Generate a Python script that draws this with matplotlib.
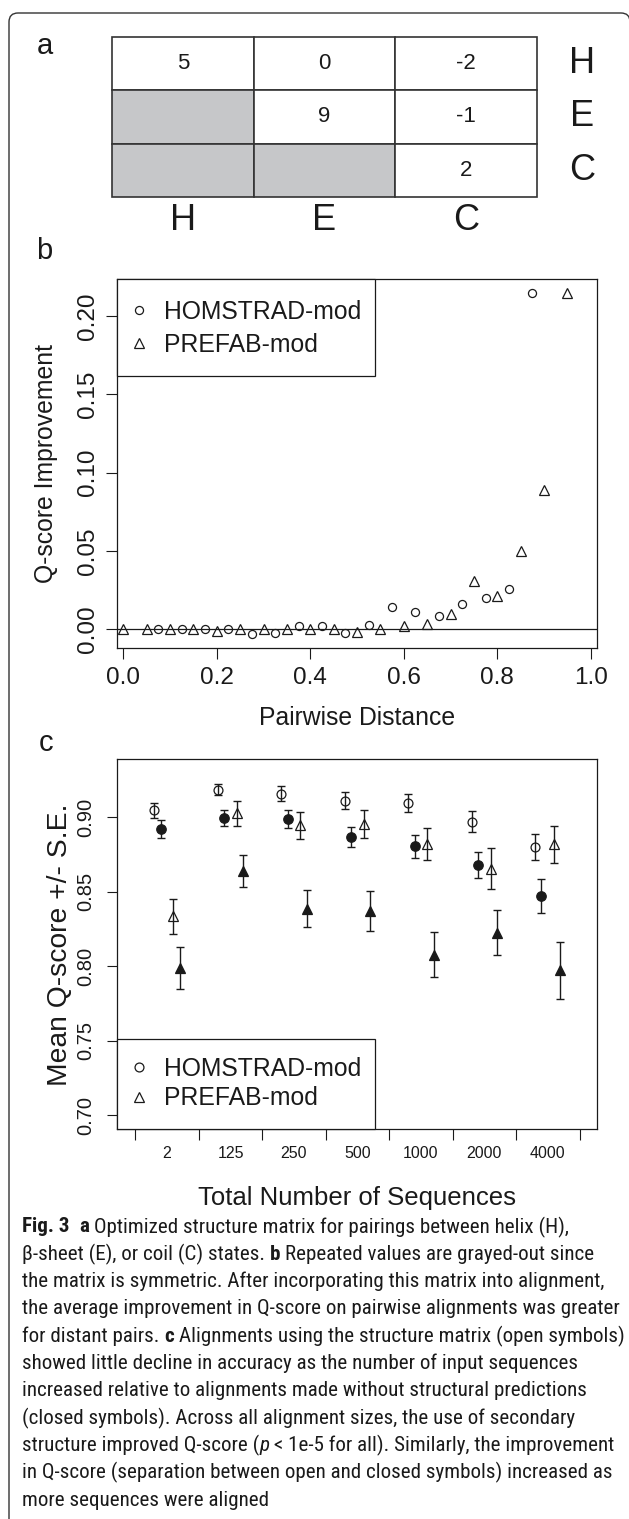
import matplotlib
matplotlib.use('Agg')
import matplotlib.pyplot as plt
from matplotlib import font_manager
from matplotlib.patches import Rectangle, PathPatch
from matplotlib.path import Path
from matplotlib.lines import Line2D

# ---------------- data ----------------
states = ['H', 'E', 'C']
matrix = [[5, 0, -2],
          [None, 9, -1],
          [None, None, 2]]

# panel b : Q-score improvement vs pairwise distance
homstrad_b_x = [0.075, 0.125, 0.175, 0.225, 0.275, 0.325, 0.375, 0.425, 0.475,
                0.525, 0.575, 0.625, 0.675, 0.725, 0.775, 0.825, 0.875]
homstrad_b_y = [0.0, 0.0, 0.0, 0.0, -0.0032, -0.0028, 0.0021, 0.0019, -0.0028,
                0.0028, 0.014, 0.011, 0.0081, 0.0158, 0.020, 0.0253, 0.215]
prefab_b_x = [0.00, 0.05, 0.10, 0.15, 0.20, 0.25, 0.30, 0.35, 0.40, 0.45,
              0.50, 0.55, 0.60, 0.65, 0.70, 0.75, 0.80, 0.85, 0.90, 0.95]
prefab_b_y = [0.0, 0.0, 0.0, 0.0, -0.001, 0.0, 0.0, 0.0, 0.0, 0.0,
              -0.002, 0.0, 0.002, 0.003, 0.0098, 0.031, 0.021, 0.050, 0.089, 0.215]
b_xticks = [0.0, 0.2, 0.4, 0.6, 0.8, 1.0]
b_yticks = [0.00, 0.05, 0.10, 0.15, 0.20]

# panel c : mean Q-score +/- S.E. vs number of sequences
groups = ['2', '125', '250', '500', '1000', '2000', '4000']
hom_struct = [0.9047, 0.9187, 0.9160, 0.9113, 0.9097, 0.8971, 0.8802]
hom_struct_se = [0.0050, 0.0040, 0.0050, 0.0054, 0.0060, 0.0071, 0.0088]
hom_plain = [0.8923, 0.8995, 0.8989, 0.8869, 0.8806, 0.8678, 0.8471]
hom_plain_se = [0.0060, 0.0056, 0.0059, 0.0068, 0.0078, 0.0086, 0.0113]
pre_struct = [0.8336, 0.9029, 0.8946, 0.8955, 0.8820, 0.8655, 0.8820]
pre_struct_se = [0.0118, 0.0084, 0.0093, 0.0096, 0.0107, 0.0137, 0.0124]
pre_plain = [0.7989, 0.8640, 0.8387, 0.8372, 0.8077, 0.8225, 0.7971]
pre_plain_se = [0.0140, 0.0110, 0.0126, 0.0134, 0.0152, 0.0150, 0.0190]
c_yticks = [0.70, 0.75, 0.80, 0.85, 0.90]
series_offsets = [-0.2, -0.1, 0.1, 0.2]

caption_lines = [
    [("Fig. 3", 'bold'), (" ", 'normal'), ("a", 'bold'),
     (" Optimized structure matrix for pairings between helix (H),", 'normal')],
    [("β-sheet (E), or coil (C) states. ", 'normal'), ("b", 'bold'),
     (" Repeated values are grayed-out since", 'normal')],
    [("the matrix is symmetric. After incorporating this matrix into alignment,", 'normal')],
    [("the average improvement in Q-score on pairwise alignments was greater", 'normal')],
    [("for distant pairs. ", 'normal'), ("c", 'bold'),
     (" Alignments using the structure matrix (open symbols)", 'normal')],
    [("showed little decline in accuracy as the number of input sequences", 'normal')],
    [("increased relative to alignments made without structural predictions", 'normal')],
    [("(closed symbols). Across all alignment sizes, the use of secondary", 'normal')],
    [("structure improved Q-score (", 'normal'), ("p", 'italic'),
     (" < 1e-5 for all). Similarly, the improvement", 'normal')],
    [("in Q-score (separation between open and closed symbols) increased as", 'normal')],
    [("more sequences were aligned", 'normal')],
]

# ---------------- setup ----------------
W, H = 629, 1519
DPI = 100
plt.rcParams['font.family'] = ['Liberation Sans', 'DejaVu Sans']
INK = '#1a1a1a'

fig = plt.figure(figsize=(W / DPI, H / DPI), dpi=DPI)
fig.patch.set_facecolor('white')


def px_rect(l, t, r, b):
    return [l / W, 1 - b / H, (r - l) / W, (b - t) / H]


# overlay axes in pixel coordinates
axo = fig.add_axes([0, 0, 1, 1])
axo.set_xlim(0, W)
axo.set_ylim(H, 0)
axo.axis('off')
axo.set_zorder(-5)

# outer rounded frame (left, top, top-right corner)
r = 9
verts = [(9, H + 5), (9, 13 + r), (9, 13), (9 + r, 13), (630 - r, 13), (630, 13), (630, 13 + r), (630, H + 5)]
codes = [Path.MOVETO, Path.LINETO, Path.CURVE3, Path.CURVE3, Path.LINETO, Path.CURVE3, Path.CURVE3, Path.LINETO]
axo.add_patch(PathPatch(Path(verts, codes), facecolor='none', edgecolor='#333333', lw=1.0, clip_on=False))

# panel letters
for lab, (x, y) in zip(['a', 'b', 'c'], [(45, 46), (44, 251), (46, 743)]):
    axo.text(x, y, lab, fontsize=21, ha='center', va='center', color=INK)

# ---------------- panel a : table ----------------
TAB_T, TAB_B = 37, 197
axa = fig.add_axes(px_rect(112, TAB_T, 537, TAB_B))
axa.set_xlim(0, 3)
axa.set_ylim(3, 0)
axa.axis('off')
for i in range(3):
    for j in range(3):
        v = matrix[i][j]
        axa.add_patch(Rectangle((j, i), 1, 1, facecolor='#c6c7c9' if v is None else 'white',
                                edgecolor='#333333', lw=1.2, clip_on=False))
        if v is not None:
            axa.text(j + 0.5, i + 0.5, str(v), ha='center', va='center', fontsize=16, color=INK)
row_h = (TAB_B - TAB_T) / 3.0
for i, s in enumerate(states):
    axa.text(3 + (582 - 537) / 141.7, i + 0.5, s, ha='center', va='center', fontsize=26,
             color=INK, clip_on=False)
    axa.text(i + 0.5, 3 + (221 - TAB_B) / row_h, s, ha='center', va='center', fontsize=26,
             color=INK, clip_on=False)

# ---------------- panel b ----------------
axb = fig.add_axes(px_rect(117.3, 279.3, 597.3, 648.3))
axb.axhline(0, color=INK, lw=0.9, zorder=1)
hb, = axb.plot(homstrad_b_x, homstrad_b_y, linestyle='none', marker='o', ms=5.8,
               mfc='none', mec=INK, mew=0.9, label='HOMSTRAD-mod', zorder=3)
pb, = axb.plot(prefab_b_x, prefab_b_y, linestyle='none', marker='^', ms=7.0,
               mfc='none', mec=INK, mew=0.9, label='PREFAB-mod', zorder=3)
axb.set_xlim(-0.0128, 1.0139)
axb.set_ylim(-0.0123, 0.2235)
axb.set_xticks(b_xticks)
axb.set_xticklabels([f'{t:.1f}' for t in b_xticks])
axb.set_yticks(b_yticks)
axb.set_yticklabels([f'{t:.2f}' for t in b_yticks], rotation=90, va='center')
axb.tick_params(axis='both', direction='out', length=7.6, width=0.8, color=INK,
                labelsize=17.5, labelcolor=INK)
axb.tick_params(axis='x', pad=6)
axb.tick_params(axis='y', pad=5.5)
for sp in axb.spines.values():
    sp.set_linewidth(0.9)
    sp.set_color(INK)
axb.set_xlabel('Pairwise Distance', fontsize=17.8, color=INK)
axb.xaxis.set_label_coords(0.5, -0.156)
axb.set_ylabel('Q-score Improvement', fontsize=17.8, color=INK)
axb.yaxis.set_label_coords(-0.1235, 0.5)
legb = axb.legend(handles=[hb, pb], loc='upper left', bbox_to_anchor=(0.0265, 0.945),
                  borderaxespad=0, borderpad=0, frameon=False, fontsize=17.8,
                  handlelength=0.73, handletextpad=0.63, labelspacing=0.38)
for t in legb.get_texts():
    t.set_color(INK)
axb.add_patch(Rectangle((0, 1 - (375.7 - 279.3) / 369.0), (375.0 - 117.3) / 480.0,
                        (375.7 - 279.3) / 369.0, transform=axb.transAxes, facecolor='white',
                        edgecolor=INK, lw=0.9, zorder=4, clip_on=False))
legb.set_zorder(5)

# ---------------- panel c ----------------
axc = fig.add_axes(px_rect(117.3, 759.3, 596.9, 1129.3))
centers = list(range(1, len(groups) + 1))
series = [
    (hom_struct, hom_struct_se, 'o', 'none', 6.4),
    (hom_plain, hom_plain_se, 'o', INK, 6.8),
    (pre_struct, pre_struct_se, '^', 'none', 7.8),
    (pre_plain, pre_plain_se, '^', INK, 7.8),
]
for (vals, se, mk, fc, ms), off in zip(series, series_offsets):
    xs = [c + off for c in centers]
    axc.errorbar(xs, vals, yerr=se, fmt='none', ecolor=INK, elinewidth=1.0,
                 capsize=2.9, capthick=1.0, zorder=2)
    axc.plot(xs, vals, linestyle='none', marker=mk, ms=ms, mfc=fc, mec=INK,
             mew=0.9, zorder=3)
axc.set_xlim(0.216, 7.774)
axc.set_ylim(0.6904, 0.939)
axc.set_xticks([c - 0.5 for c in centers] + [centers[-1] + 0.5])
axc.set_xticklabels([])
axc.set_xticks(centers, minor=True)
axc.set_xticklabels(groups, minor=True)
axc.tick_params(axis='x', which='minor', length=0, labelsize=11.5, pad=12, labelcolor=INK)
axc.tick_params(axis='x', which='major', direction='out', length=7.6, width=0.8, color=INK)
axc.set_yticks(c_yticks)
axc.set_yticklabels([f'{t:.2f}' for t in c_yticks], rotation=90, va='center')
axc.tick_params(axis='y', direction='out', length=7.3, width=0.8, color=INK,
                labelsize=14.5, pad=8.9, labelcolor=INK)
for sp in axc.spines.values():
    sp.set_linewidth(0.9)
    sp.set_color(INK)
axc.set_xlabel('Total Number of Sequences', fontsize=18.5, color=INK)
axc.xaxis.set_label_coords(0.5, -0.154)
axc.set_ylabel('Mean Q-score +/- S.E.', fontsize=20.3, color=INK)
axc.yaxis.set_label_coords(-0.093, 0.5)
leg_h = [Line2D([], [], linestyle='none', marker='o', ms=6.4, mfc='none', mec=INK, mew=0.9),
         Line2D([], [], linestyle='none', marker='^', ms=7.6, mfc='none', mec=INK, mew=0.9)]
legc = axc.legend(leg_h, ['HOMSTRAD-mod', 'PREFAB-mod'], loc='upper left',
                  bbox_to_anchor=(0.0265, 0.1954), borderaxespad=0, borderpad=0,
                  frameon=False, fontsize=17.8, handlelength=0.73, handletextpad=0.63,
                  labelspacing=0.22)
for t in legc.get_texts():
    t.set_color(INK)
axc.add_patch(Rectangle((0, 0), (375.3 - 117.3) / 479.6, (1129.3 - 1039.0) / 370.0,
                        transform=axc.transAxes, facecolor='white', edgecolor=INK, lw=0.9,
                        zorder=4, clip_on=False))
legc.set_zorder(5)

# ---------------- caption ----------------
avail = {f.name for f in font_manager.fontManager.ttflist}
cap_font = 'Liberation Sans'
for cand in ['Liberation Sans Narrow', 'Roboto Condensed', 'Open Sans Condensed', 'Lato', 'Roboto']:
    if cand in avail:
        cap_font = cand
        break
cap_family = [cap_font, 'DejaVu Sans']
renderer = fig.canvas.get_renderer()


def seg_style(kind):
    return ('bold' if kind == 'bold' else 'normal', 'italic' if kind == 'italic' else 'normal')


def text_width(s, size, kind='normal'):
    weight, style = seg_style(kind)
    t = axo.text(0, 0, s, fontsize=size, family=cap_family, fontweight=weight, fontstyle=style)
    w = t.get_window_extent(renderer).width
    t.remove()
    return w


def line_width(segs, size, space_w):
    x = 0.0
    for s, kind in segs:
        lead = len(s) - len(s.lstrip(' '))
        trail = len(s) - len(s.rstrip(' '))
        core = s.strip(' ')
        x += lead * space_w
        if core:
            x += text_width(core, size, kind)
        x += trail * space_w
    return x


base = 10.0
sp10 = text_width('a a', base) - text_width('aa', base)
max_w = max(line_width(segs, base, sp10) for segs in caption_lines)
size = base * 598.0 / max_w
space_w = text_width('a a', size) - text_width('aa', size)

x0, y0, dy = 22, 1227, 27.3
for k, segs in enumerate(caption_lines):
    x = x0
    y = y0 + k * dy
    for s, kind in segs:
        lead = len(s) - len(s.lstrip(' '))
        trail = len(s) - len(s.rstrip(' '))
        core = s.strip(' ')
        x += lead * space_w
        if core:
            weight, style = seg_style(kind)
            t = axo.text(x, y, core, fontsize=size, family=cap_family, fontweight=weight,
                         fontstyle=style, ha='left', va='center', color=INK)
            x += t.get_window_extent(renderer).width
        x += trail * space_w

fig.savefig('out.png', dpi=DPI, facecolor='white')
